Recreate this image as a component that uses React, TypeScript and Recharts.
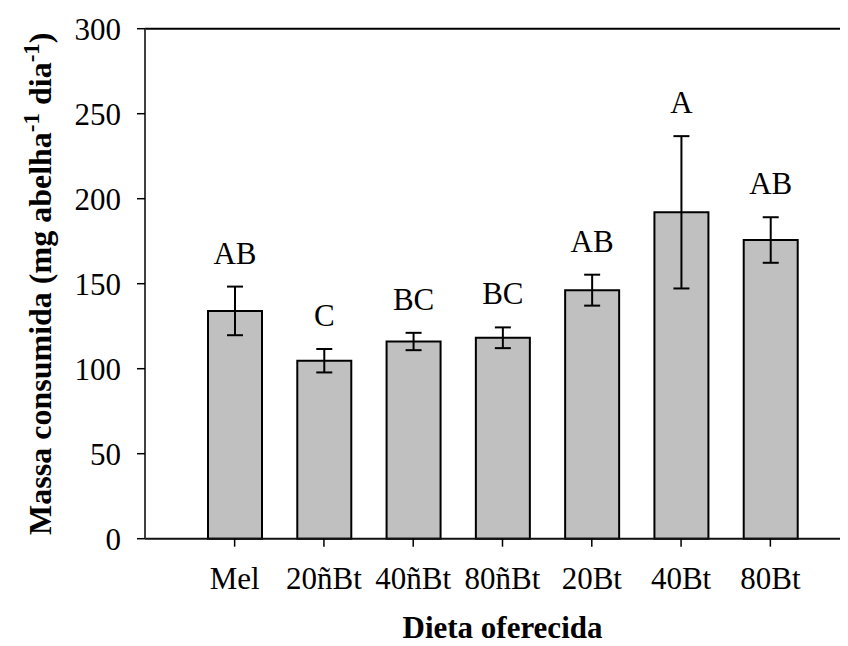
import { BarChart, Bar, XAxis, YAxis, ErrorBar, LabelList, ReferenceLine, Label } from "recharts";

// diets offered
const categories = ["Mel", "20ñBt", "40ñBt", "80ñBt", "20Bt", "40Bt", "80Bt"];
// consumed mass (mg bee-1 day-1)
const means = [134, 104.7, 116, 118.2, 146.2, 192, 175.7];
const errors = [14.3, 6.9, 5.1, 6.1, 9.1, 44.8, 13.4];
const letters = ["AB", "C", "BC", "BC", "AB", "A", "AB"];
const yTicks = [0, 50, 100, 150, 200, 250, 300];

const data = categories.map((name, i) => ({
	name,
	mean: means[i],
	err: errors[i],
	letter: letters[i],
}));

const FONT = '"Liberation Serif", "Times New Roman", serif';

// letter above each error bar
function LetterLabel(props: any) {
	const { x, y, width, height, value, index } = props;
	const pxPerUnit = height / means[index];
	const errTop = y - errors[index] * pxPerUnit;
	return (
		<text
			x={x + width / 2}
			y={errTop - 23}
			textAnchor="middle"
			fontFamily={FONT}
			fontSize={31}
			fill="#000"
		>
			{value}
		</text>
	);
}

function YTitle(props: any) {
	const vb = props.viewBox || { x: 27, y: 20.7, width: 110, height: 510 };
	const cx = vb.x + 5;
	const cy = vb.y + vb.height / 2;
	return (
		<text
			transform={`rotate(-90 ${cx} ${cy})`}
			x={cx}
			y={cy}
			dy="0.35em"
			textAnchor="middle"
			fontFamily={FONT}
			fontSize={32}
			fontWeight="bold"
			fill="#000"
		>
			Massa consumida (mg abelha
			<tspan fontSize={23} dy={-12}>
				-1
			</tspan>
			<tspan dy={12}> dia</tspan>
			<tspan fontSize={23} dy={-12}>
				-1
			</tspan>
			<tspan dy={12}>)</tspan>
		</text>
	);
}

export default function App() {
	return (
		<div style={{ width: 840, height: 638, overflow: "hidden" }}>
			<BarChart
				width={852}
				height={638}
				data={data}
				margin={{ top: 20.7, right: 0, left: 27, bottom: 0 }}
			>
				<XAxis
					dataKey="name"
					height={107.3}
					padding={{ left: 45, right: 45 }}
					tickSize={8}
					tickMargin={20}
					axisLine={{ stroke: "#111", strokeWidth: 2 }}
					tickLine={{ stroke: "#000", strokeWidth: 1.5 }}
					tick={{ fontSize: 31, fill: "#000", fontFamily: FONT }}
					interval={0}
				>
					<Label
						value="Dieta oferecida"
						position="insideBottom"
						offset={8}
						fill="#000"
						fontSize={31}
						fontWeight="bold"
						fontFamily={FONT}
					/>
				</XAxis>
				<YAxis
					type="number"
					domain={[0, 300]}
					ticks={yTicks}
					width={110}
					tickSize={8}
					tickMargin={16}
					axisLine={{ stroke: "#404040", strokeWidth: 2 }}
					tickLine={{ stroke: "#000", strokeWidth: 1.5 }}
					tick={{ fontSize: 31, fill: "#000", fontFamily: FONT }}
					label={<YTitle />}
				/>
				<ReferenceLine y={300} stroke="#000" strokeWidth={2} />
				<Bar
					dataKey="mean"
					fill="#c0c0c0"
					stroke="#000"
					strokeWidth={2}
					barSize={54}
					isAnimationActive={false}
				>
					<ErrorBar
						dataKey="err"
						width={8}
						stroke="#000"
						strokeWidth={2}
						direction="y"
						isAnimationActive={false}
					/>
					<LabelList dataKey="letter" content={<LetterLabel />} />
				</Bar>
			</BarChart>
		</div>
	);
}
